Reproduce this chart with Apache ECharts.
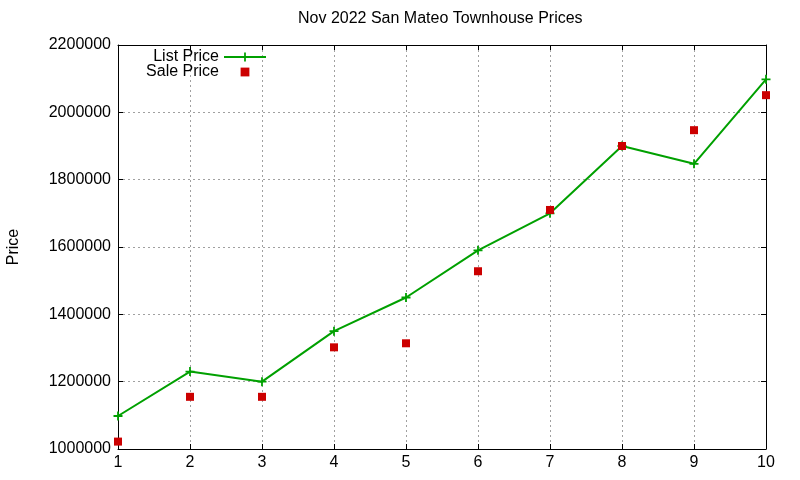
<!DOCTYPE html>
<html>
<head>
<meta charset="utf-8">
<script src="https://cdn.jsdelivr.net/npm/echarts@6/dist/echarts.min.js"></script>
<style>
  html, body { margin: 0; padding: 0; background: #fff; }
  #main { width: 800px; height: 480px; }
</style>
</head>
<body>
<div id="main"></div>
<script>
var months = ['1', '2', '3', '4', '5', '6', '7', '8', '9', '10'];
var listPrice = [1098000, 1230000, 1200000, 1350000, 1450000, 1590000, 1700000, 1900000, 1847000, 2098000];
var salePrice = [1022000, 1155000, 1155000, 1302000, 1314000, 1528000, 1710000, 1900000, 1947000, 2051000];

var font = 'Liberation Sans, Arial, sans-serif';
var plus = 'path://M4,0H6V4H10V6H6V10H4V6H0V4H4Z';

var myChart = echarts.init(document.getElementById('main'));

var option = {
    animation: false,
    backgroundColor: '#fff',
    textStyle: { fontFamily: font },
    title: {
        text: 'Nov 2022 San Mateo Townhouse Prices',
        left: 298,
        top: 11,
        padding: 0,
        textStyle: { fontFamily: font, fontSize: 16, fontWeight: 'normal', color: '#000' }
    },
    legend: {
        orient: 'vertical',
        align: 'right',
        right: 533,
        top: 49,
        padding: 0,
        itemWidth: 42,
        itemHeight: 11,
        itemGap: -1,
        textStyle: { fontFamily: font, fontSize: 16, color: '#000', lineHeight: 14 },
        data: ['List Price', 'Sale Price']
    },
    grid: { left: 118, right: 34, top: 45, bottom: 31, containLabel: false, outerBoundsMode: 'none' },
    xAxis: [
        {
            type: 'category',
            data: months,
            boundaryGap: false,
            axisLine: { lineStyle: { color: '#000', width: 1 } },
            axisTick: { inside: true, length: 5, alignWithLabel: true, lineStyle: { color: '#000' } },
            axisLabel: { fontFamily: font, fontSize: 16, color: '#000', margin: 6 },
            splitLine: { show: true, lineStyle: { color: '#a0a0a0', type: [2, 3], width: 1 } }
        },
        {
            type: 'category',
            data: months,
            boundaryGap: false,
            position: 'top',
            axisLine: { lineStyle: { color: '#000', width: 1 } },
            axisTick: { inside: true, length: 5, lineStyle: { color: '#000' } },
            axisLabel: { show: false },
            splitLine: { show: false }
        }
    ],
    yAxis: [
        {
            type: 'value',
            min: 1000000,
            max: 2200000,
            interval: 200000,
            name: 'Price',
            nameLocation: 'middle',
            nameRotate: 90,
            nameGap: 96,
            nameTextStyle: { fontFamily: font, fontSize: 16, color: '#000' },
            axisLine: { show: true, lineStyle: { color: '#000', width: 1 } },
            axisTick: { show: true, inside: true, length: 5, lineStyle: { color: '#000' } },
            axisLabel: {
                fontFamily: font, fontSize: 16, color: '#000', margin: 7,
                formatter: function (v) { return String(v); }
            },
            splitLine: { show: true, lineStyle: { color: '#a0a0a0', type: [2, 3], width: 1 } }
        },
        {
            type: 'value',
            min: 1000000,
            max: 2200000,
            interval: 200000,
            position: 'right',
            axisLine: { show: true, lineStyle: { color: '#000', width: 1 } },
            axisTick: { show: true, inside: true, length: 5, lineStyle: { color: '#000' } },
            axisLabel: { show: false },
            splitLine: { show: false }
        }
    ],
    series: [
        {
            name: 'List Price',
            type: 'line',
            data: listPrice,
            symbol: plus,
            symbolSize: 9,
            showAllSymbol: true,
            color: '#00a000',
            lineStyle: { color: '#00a000', width: 2 },
            itemStyle: { color: '#00a000' },
            z: 3
        },
        {
            name: 'Sale Price',
            type: 'line',
            data: salePrice,
            symbol: 'rect',
            symbolSize: 8,
            showAllSymbol: true,
            color: '#cc0000',
            lineStyle: { opacity: 0, width: 0 },
            itemStyle: { color: '#cc0000', opacity: 1 },
            z: 4
        }
    ]
};

myChart.setOption(option);
</script>
</body>
</html>
